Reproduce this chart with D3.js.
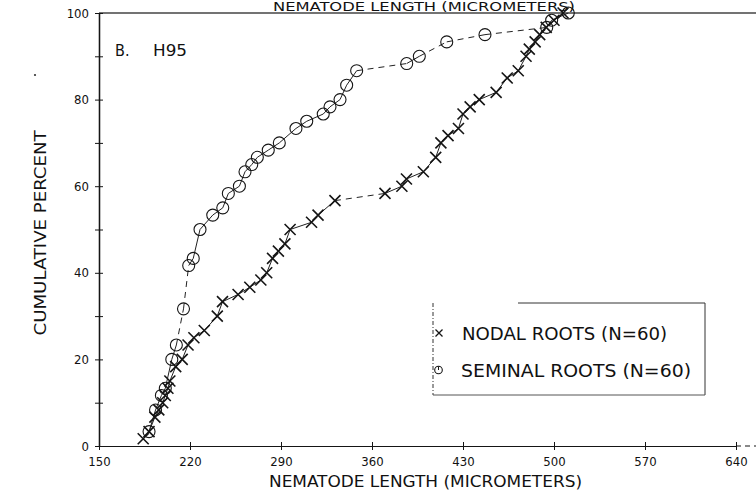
<!DOCTYPE html>
<html><head><meta charset="utf-8">
<script src="https://cdn.jsdelivr.net/npm/d3@7"></script>
<style>
html,body{margin:0;padding:0;background:#fff;}
svg{display:block;}
text{font-family:"Liberation Sans Narrow","DejaVu Sans Condensed","Liberation Sans",sans-serif;fill:#111;}
</style></head>
<body>
<svg id="chart" width="756" height="496"></svg>
<script>
// ---- data ----
const xTicks = [150, 220, 290, 360, 430, 500, 570, 640];
const yTicks = [0, 10, 20, 30, 40, 50, 60, 70, 80, 90, 100];
const yTickLabels = [0, 20, 40, 60, 80, 100];

const nodalLength = [184, 188.5, 193, 196, 199, 201, 203, 204.5, 209, 214, 218.5, 223, 231, 241, 245, 257, 266, 274.5, 279, 283.5, 288, 293, 297, 313.5, 318.5, 331.5, 370, 383, 386.5, 399.5, 409, 413, 418.5, 426.5, 430, 435.5, 442.5, 455.5, 464, 472.5, 478.5, 481, 485.5, 489, 494, 500, 507];
const nodalPercent = [1.67, 3.33, 6.67, 8.33, 10, 11.67, 13.33, 15, 18.33, 20, 23.33, 25, 26.67, 30, 33.33, 35, 36.67, 38.33, 40, 43.33, 45, 46.67, 50, 51.67, 53.33, 56.67, 58.33, 60, 61.67, 63.33, 66.67, 70, 71.67, 73.33, 76.67, 78.33, 80, 81.67, 85, 86.67, 90, 91.67, 93.33, 95, 96.67, 98.33, 100];

const seminalLength = [188.5, 193.5, 198, 201, 206, 209.5, 215, 219, 222.5, 227.7, 237.5, 245.2, 249.5, 258, 262.3, 267.5, 271.8, 280.2, 288.7, 301.5, 309.8, 322.5, 327.7, 335.4, 340.5, 348.2, 386.7, 396.4, 417.5, 446.9, 494.4, 498.2, 511];
const seminalPercent = [3.33, 8.33, 11.67, 13.33, 20, 23.33, 31.67, 41.67, 43.33, 50, 53.33, 55, 58.33, 60, 63.33, 65, 66.67, 68.33, 70, 73.33, 75, 76.67, 78.33, 80, 83.33, 86.67, 88.33, 90, 93.33, 95, 96.67, 98.33, 100];

const panelLabel = "B.";
const cultivar = "H95";
const xTitle = "NEMATODE LENGTH (MICROMETERS)";
const yTitle = "CUMULATIVE PERCENT";
const legendNodal = "NODAL ROOTS (N=60)";
const legendSeminal = "SEMINAL ROOTS (N=60)";

// ---- drawing ----
const svg = d3.select("#chart");
const x = d3.scaleLinear().domain([150, 640]).range([99, 736]);
const y = d3.scaleLinear().domain([0, 100]).range([446, 13]);
const ink = "#151515";

// top frame line
svg.append("line").attr("x1", x(150)).attr("x2", 756).attr("y1", y(100)).attr("y2", y(100))
  .attr("stroke", "#444").attr("stroke-width", 1.3);

// top title (cropped in the original scan; kept fully visible here)
svg.append("text").attr("x", 424).attr("y", 10.5).attr("text-anchor", "middle")
  .attr("font-size", 12).attr("textLength", 302).attr("lengthAdjust", "spacingAndGlyphs").text(xTitle);

// x axis
const gx = svg.append("g").attr("transform", `translate(0,${y(0)})`);
gx.call(d3.axisBottom(x).tickValues(xTicks).tickSize(4).tickSizeOuter(0).tickPadding(7).tickFormat(d3.format("d")));
gx.append("g").call(d3.axisTop(x).tickValues(xTicks).tickSize(4).tickSizeOuter(0).tickFormat(""));
gx.selectAll("path.domain").attr("stroke", ink).attr("stroke-width", 1.2);
gx.selectAll("line").attr("stroke", ink);
gx.selectAll("text").attr("font-size", 13).attr("fill", ink)
  .attr("font-family", "'Liberation Sans Narrow','DejaVu Sans Condensed','Liberation Sans',sans-serif");
svg.append("line").attr("x1", x(640)).attr("x2", 756).attr("y1", y(0)).attr("y2", y(0))
  .attr("stroke", ink).attr("stroke-width", 1.2).attr("stroke-dasharray", "5,4");

// y axis
const gy = svg.append("g").attr("transform", `translate(${x(150)},0)`);
gy.call(d3.axisLeft(y).tickValues(yTicks).tickSize(4).tickSizeOuter(0).tickPadding(6)
  .tickFormat(d => yTickLabels.includes(d) ? d3.format("d")(d) : ""));
gy.append("g").call(d3.axisRight(y).tickValues(yTicks).tickSize(4).tickSizeOuter(0).tickFormat(""));
gy.selectAll("path.domain").attr("stroke", ink).attr("stroke-width", 1.3);
gy.selectAll("line").attr("stroke", ink);
gy.selectAll("text").attr("font-size", 13).attr("fill", ink)
  .attr("font-family", "'Liberation Sans Narrow','DejaVu Sans Condensed','Liberation Sans',sans-serif");

// axis titles
svg.append("text").attr("x", 425.5).attr("y", 487).attr("text-anchor", "middle")
  .attr("font-size", 16).attr("textLength", 313).attr("lengthAdjust", "spacingAndGlyphs").text(xTitle);
svg.append("text").attr("transform", "translate(46,233) rotate(-90)").attr("text-anchor", "middle")
  .attr("font-size", 16).attr("textLength", 205).attr("lengthAdjust", "spacingAndGlyphs").text(yTitle);

// panel label
svg.append("text").attr("x", 115).attr("y", 56).attr("font-size", 16).text(panelLabel);
svg.append("text").attr("x", 153).attr("y", 56).attr("font-size", 16)
  .attr("textLength", 34).attr("lengthAdjust", "spacingAndGlyphs").text(cultivar);
// stray speck
svg.append("circle").attr("cx", 35).attr("cy", 75).attr("r", 1.1).attr("fill", "#333");

// series lines (long gaps drawn dashed like the pen plot)
function drawSeries(xs, ys) {
  const pts = xs.map((v, i) => [x(v), y(ys[i])]);
  const g = svg.append("g");
  for (let i = 1; i < pts.length; i++) {
    const [x0, y0] = pts[i - 1], [x1, y1] = pts[i];
    const len = Math.hypot(x1 - x0, y1 - y0);
    g.append("line").attr("x1", x0).attr("y1", y0).attr("x2", x1).attr("y2", y1)
      .attr("stroke", "#222").attr("stroke-width", 1)
      .attr("stroke-dasharray", len > 30 ? "6,5" : null);
  }
  return pts;
}
const nodalPts = drawSeries(nodalLength, nodalPercent);
const seminalPts = drawSeries(seminalLength, seminalPercent);

// markers
const s = 5.5;
svg.append("g").selectAll("path").data(nodalPts).join("path")
  .attr("d", d => `M${d[0]-s},${d[1]-s}L${d[0]+s},${d[1]+s}M${d[0]-s},${d[1]+s}L${d[0]+s},${d[1]-s}`)
  .attr("stroke", ink).attr("stroke-width", 1.6).attr("fill", "none");
svg.append("g").selectAll("circle").data(seminalPts).join("circle")
  .attr("cx", d => d[0]).attr("cy", d => d[1]).attr("r", 6)
  .attr("stroke", ink).attr("stroke-width", 1.1).attr("fill", "none");

// legend
const lg = svg.append("g");
lg.append("line").attr("x1", 433).attr("x2", 433).attr("y1", 303).attr("y2", 395)
  .attr("stroke", "#333").attr("stroke-dasharray", "4,2,1,2");
lg.append("line").attr("x1", 518).attr("x2", 705).attr("y1", 303).attr("y2", 303).attr("stroke", "#333");
lg.append("line").attr("x1", 705).attr("x2", 705).attr("y1", 303).attr("y2", 395).attr("stroke", "#333");
lg.append("line").attr("x1", 433).attr("x2", 705).attr("y1", 395).attr("y2", 395).attr("stroke", "#555");
lg.append("path").attr("d", "M435.5,329.5L442.5,336.5M435.5,336.5L442.5,329.5")
  .attr("stroke", ink).attr("stroke-width", 1.3);
lg.append("circle").attr("cx", 438.5).attr("cy", 370).attr("r", 3.8).attr("fill", "none")
  .attr("stroke", ink).attr("stroke-width", 1.1);
lg.append("line").attr("x1", 438.5).attr("x2", 438.5).attr("y1", 366.5).attr("y2", 370).attr("stroke", ink);
lg.append("text").attr("x", 462).attr("y", 340).attr("font-size", 18)
  .attr("textLength", 205).attr("lengthAdjust", "spacingAndGlyphs").text(legendNodal);
lg.append("text").attr("x", 461).attr("y", 377).attr("font-size", 18)
  .attr("textLength", 230).attr("lengthAdjust", "spacingAndGlyphs").text(legendSeminal);
</script>
</body></html>
